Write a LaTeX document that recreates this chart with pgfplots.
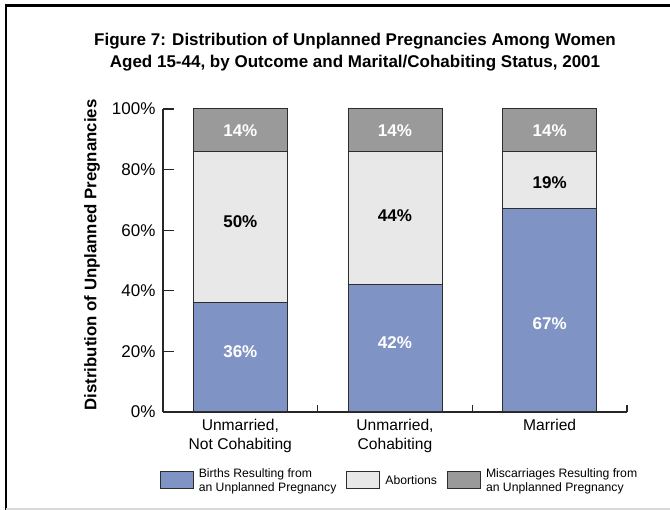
\documentclass[border=0pt]{standalone}
\usepackage{fontspec}
\setmainfont{Liberation Sans}
\usepackage{pgfplots}
\pgfplotsset{compat=1.18}
\definecolor{cblue}{RGB}{127,148,196}
\definecolor{clight}{RGB}{232,232,232}
\definecolor{cdark}{RGB}{155,154,155}
\definecolor{cedge}{RGB}{45,45,45}
\begin{document}
\begin{tikzpicture}[x=1pt,y=1pt]
\path[use as bounding box] (0,0) rectangle (670,510);
\draw[line width=2.5pt] (6,0) -- (6,504.5) -- (670,504.5);
\draw[line width=1.5pt, black!15] (6,1.2) -- (670,1.2);
\node[font=\fontsize{17}{22}\selectfont\bfseries, align=center] at (355,458)
  {Figure 7: Distribution of Unplanned Pregnancies Among Women\\Aged 15-44, by Outcome and Marital/Cohabiting Status, 2001};
\node[font=\fontsize{16.8}{18}\selectfont\bfseries, rotate=90] at (92,255) {Distribution of Unplanned Pregnancies};
\begin{axis}[
  at={(163pt,98pt)}, anchor=south west,
  scale only axis, width=464pt, height=303pt,
  xmin=-0.5, xmax=2.5, ymin=0, ymax=100,
  ybar stacked, bar width=94pt,
  axis x line*=bottom, axis y line*=left,
  axis line style={-, line width=1.2pt, black!85},
  tick align=inside, major tick length=11pt,
  tick style={line width=1.2pt, black!85},
  ytick={0,20,40,60,80,100},
  yticklabels={0\%,20\%,40\%,60\%,80\%,100\%},
  y tick label style={font=\fontsize{17}{20}\selectfont, xshift=-4pt},
  xtick={0,1,2},
  xticklabels={{Unmarried,\\Not Cohabiting},{Unmarried,\\Cohabiting},Married},
  x tick label style={align=center, font=\fontsize{15.6}{19}\selectfont, yshift=-4pt},
  xtick style={draw=none},
  extra x ticks={0.5,1.5,2.5}, extra x tick labels={},
  extra x tick style={major tick length=7pt, xtick style={draw=black!85, line width=1.2pt}},
  legend columns=3,
  legend style={at={(axis description cs:0.5097,-0.226)}, anchor=center, draw=none, fill=none,
    font=\fontsize{12.2}{14}\selectfont, cells={align=left, anchor=west},
    /tikz/every odd column/.append style={column sep=3pt},
    /tikz/every even column/.append style={column sep=8pt}},
  legend image code/.code={\draw[#1] (0pt,-8.5pt) rectangle (33pt,8.5pt);},
]
\addplot[fill=cblue, draw=cedge, line width=1pt] coordinates {(0,36) (1,42) (2,67)};
\addlegendentry{Births Resulting from\\an Unplanned Pregnancy}
\addplot[fill=clight, draw=cedge, line width=1pt] coordinates {(0,50) (1,44) (2,19)};
\addlegendentry{Abortions}
\addplot[fill=cdark, draw=cedge, line width=1pt] coordinates {(0,14) (1,14) (2,14)};
\addlegendentry{Miscarriages Resulting from\\an Unplanned Pregnancy}
\end{axis}
\begin{axis}[
  at={(163pt,98pt)}, anchor=south west,
  scale only axis, width=464pt, height=303pt,
  xmin=-0.5, xmax=2.5, ymin=0, ymax=100, hide axis, clip=false,
  nodes near coords, point meta=explicit symbolic,
  every node near coord/.append style={anchor=center, font=\fontsize{17}{20}\selectfont\bfseries},
]
\addplot[draw=none, mark=none, every node near coord/.append style={text=white}]
  coordinates {(0,20)[36\%] (1,23)[42\%] (2,29)[67\%]};
\addplot[draw=none, mark=none, every node near coord/.append style={text=black}]
  coordinates {(0,62.7)[50\%] (1,64.7)[44\%] (2,75.6)[19\%]};
\addplot[draw=none, mark=none, every node near coord/.append style={text=white}]
  coordinates {(0,92.7)[14\%] (1,92.7)[14\%] (2,92.7)[14\%]};
\end{axis}
\end{tikzpicture}
\end{document}
